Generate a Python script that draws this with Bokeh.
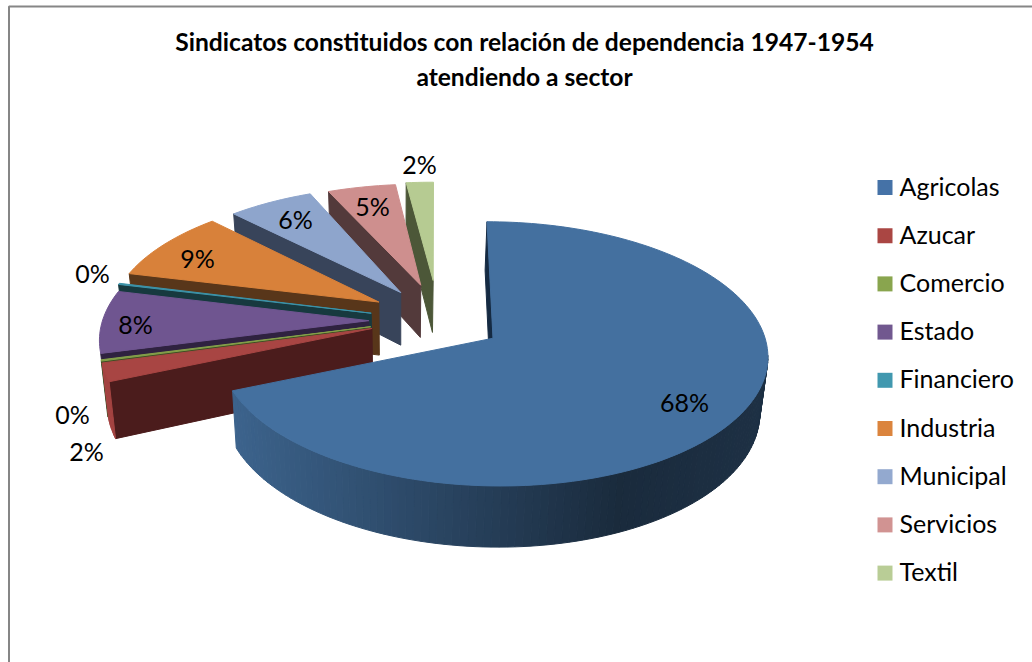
import numpy as np
from bokeh.plotting import figure
from bokeh.models import Range1d, ColumnDataSource
from bokeh.core.properties import value
from bokeh.embed import file_html
from bokeh.resources import INLINE

title_lines = ["Sindicatos constituidos con relación de dependencia 1947-1954", "atendiendo a sector"]
sectors = ["Agricolas", "Azucar", "Comercio", "Estado", "Financiero", "Industria", "Municipal", "Servicios", "Textil"]
shares = [68.4, 2.2, 0.15, 7.6, 0.15, 8.85, 5.8, 4.6, 1.8]
legend_colors = ["#4572A7", "#AA4643", "#89A54E", "#71588F", "#4198AF", "#DB843D", "#93A9CF", "#D19392", "#B9CD96"]
top_colors = ["#44709F", "#A84543", "#84A04A", "#6F5590", "#3D93A9", "#D8813A", "#8EA5CC", "#CE8F8E", "#B6CB92"]
face_colors = ["#152A42", "#4B1C1C", "#3F4F24", "#2F2240", "#17393F", "#58361A", "#38445A", "#533A3B", "#4C5738"]
label_pos = [(684, 401), (86, 450), (72, 413), (135, 323), (92, 272), (197, 257), (295, 218), (372, 205), (419, 163)]
explode_x = [0.242, 0.245, 0.245, 0.245, 0.245, 0.245, 0.24, 0.23, 0.22]
explode_y = [0.242, 0.19, 0.19, 0.20, 0.24, 0.29, 0.265, 0.29, 0.32]
radius_x = [0.97, 0.965, 0.965, 0.965, 0.98, 0.98, 0.98, 0.98, 1.0]
radius_y = [0.97, 1.0, 1.0, 1.0, 1.0, 0.97, 0.96, 0.92, 0.90]

CX, CY, RX, RY, PERSP, DEPTH = 436, 320, 276, 130, 0.12, 54
KX, XC = 0.978, 400

total = sum(shares)
edges = np.cumsum([0] + shares) / total * 360.0

def top_pt(i, t, r=1.0):
    mid = np.radians((edges[i] + edges[i + 1]) / 2)
    a = np.radians(t)
    U = explode_x[i] * np.sin(mid) + r * radius_x[i] * np.sin(a)
    V = -explode_y[i] * np.cos(mid) - r * radius_y[i] * np.cos(a)
    w = 1 - PERSP * V
    return CX + RX * U / w, CY + RY * V / w, V

def bottom_pt(i, t, r=1.0):
    x, y, V = top_pt(i, t, r)
    return XC + (x - XC) * KX, y + DEPTH * (1 + 0.12 * V)

def hex_shade(col, f):
    rgb = [int(col[k:k + 2], 16) for k in (1, 3, 5)]
    return "#%02x%02x%02x" % tuple(int(round(c * f)) for c in rgb)

xs, ys, cols = [], [], []
def add(px, py, c):
    xs.append(list(px)); ys.append(list(py)); cols.append(c)

for i in [8, 7, 6, 5, 4, 3, 2, 1, 0]:
    t0, t1 = edges[i], edges[i + 1]
    xa, ya, _ = top_pt(i, t0, 0)
    xb, yb, _ = top_pt(i, t0, 1)
    xc, yc = bottom_pt(i, t0, 1)
    xd, yd = bottom_pt(i, t0, 0)
    add([xa, xb, xc, xd], [ya, yb, yc, yd], face_colors[i])
    ts = np.linspace(t0, t1, max(2, int((t1 - t0) / 1.5) + 2))
    mid_v = -np.cos(np.radians((t0 + t1) / 2))
    if mid_v > PERSP and shares[i] >= 1:
        for a, b in zip(ts[:-1], ts[1:]):
            if -np.cos(np.radians((a + b) / 2)) < PERSP:
                continue
            x1, y1, _ = top_pt(i, a); x2, y2, _ = top_pt(i, b)
            x3, y3 = bottom_pt(i, b); x4, y4 = bottom_pt(i, a)
            f = np.interp((x1 + x2) / 2, [100, 235, 620, 770], [0.98, 0.88, 0.38, 0.43])
            add([x1, x2, x3, x4], [y1, y2, y3, y4], hex_shade(top_colors[i], f))
    arc = [top_pt(i, t) for t in ts]
    add([xa] + [q[0] for q in arc], [ya] + [q[1] for q in arc], top_colors[i])

LEFT, TOP, W, H = 0, 0, 1032, 662
p = figure(width=W, height=H, x_range=Range1d(LEFT, LEFT + W), y_range=Range1d(TOP + H, TOP),
           output_backend="svg", toolbar_location=None, x_axis_location=None, y_axis_location=None,
           min_border=0, outline_line_color=None, background_fill_color="white", border_fill_color="white")
p.xgrid.visible = False
p.ygrid.visible = False

p.line([8.5, 8.5, LEFT + W], [TOP + H, 6, 6], line_color="#868686", line_width=2)

p.patches("xs", "ys", fill_color="c", line_color="c", line_width=1,
          source=ColumnDataSource(dict(xs=xs, ys=ys, c=cols)))

p.text([524, 524], [41, 76], text=title_lines, text_font=value("Lato"), text_font_style="bold",
       text_font_size="24.6px", text_align="center", text_baseline="middle", text_color="#000000")

labels = [f"{round(v):d}%" for v in shares]
p.text([q[0] for q in label_pos], [q[1] for q in label_pos], text=labels, text_font=value("Lato"),
       text_font_size="25px", text_align="center", text_baseline="middle", text_color="#000000")

ly = [187 + k * 48.2 for k in range(len(sectors))]
p.rect([884.5] * len(sectors), ly, width=15, height=15, fill_color=legend_colors, line_color=None)
p.text([899] * len(sectors), [y - 2 for y in ly], text=sectors, text_font=value("Lato"), text_font_size="25px",
       text_align="left", text_baseline="middle", text_color="#000000")

open("out.html", "w").write(file_html(p, INLINE))
